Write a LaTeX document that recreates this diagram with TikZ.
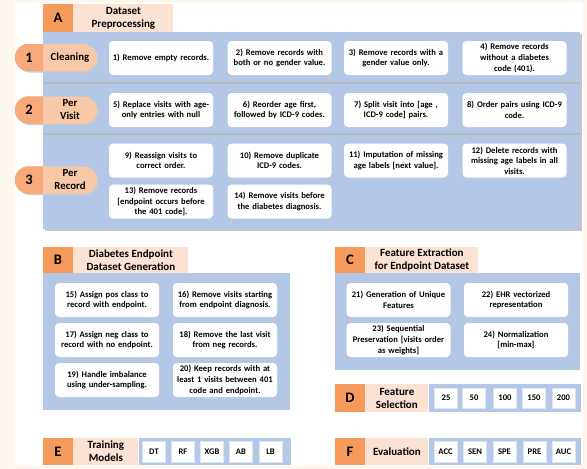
\documentclass[tikz,border=0pt]{standalone}
\usepackage{fontspec}
\setmainfont{Carlito}
\usetikzlibrary{positioning}

\definecolor{cream}{HTML}{FDF7F0}
\definecolor{letterorange}{HTML}{F69A5C}
\definecolor{headpeach}{HTML}{FCE2D2}
\definecolor{panelblue}{HTML}{B4C7E7}
\definecolor{pillorange}{HTML}{F7A97C}
\definecolor{pillpeach}{HTML}{F9C8A6}
\definecolor{chipline}{HTML}{DCE5F4}

\tikzset{
  letterbox/.style={fill=letterorange, minimum width=30, minimum height=28,
    inner sep=0, font=\fontsize{14.5}{14.5}\selectfont\bfseries},
  headbox/.style={fill=headpeach, minimum height=28, inner sep=0, align=center,
    font=\fontsize{11}{13}\selectfont\bfseries},
  stripbox/.style={fill=panelblue, minimum height=28, minimum width=152, inner sep=0},
  stepbox/.style={fill=white, rounded corners=4, minimum width=104,
    minimum height=34, text width=103, inner sep=0, align=center,
    font=\fontsize{8.6}{10.6}\selectfont\bfseries},
  chip/.style={fill=white, draw=chipline, minimum width=23, minimum height=21,
    inner sep=0, font=\fontsize{8.6}{8.6}\selectfont\bfseries},
  pill/.style={fill=pillpeach, minimum width=82, minimum height=27,
    rounded corners=13.5, inner sep=0},
  pilllabel/.style={align=center, inner sep=0,
    font=\fontsize{10.8}{13}\selectfont\bfseries},
  pillnum/.style={inner sep=0, font=\fontsize{14.5}{14.5}\selectfont\bfseries},
  divider/.style={draw=gray!55, line width=1.6}
}

\begin{document}
\begin{tikzpicture}[x=1pt, y=-1pt]
  \useasboundingbox (0,0) rectangle (587,469);
  \fill[cream] (0,0) rectangle (587,469);
  \fill[white] (15,3) rectangle (583,466);

  % A: dataset preprocessing
  \fill[gray!45] (45,34) rectangle (582,231);
  \fill[panelblue] (43,32) rectangle (580,229);
  \node[letterbox] (lA) at (58,18) {A};
  \node[headbox, minimum width=100, right=0pt of lA] (hA) {Dataset\\Preprocessing};
  \draw[divider] (43,83) -- (580,83);
  \draw[divider] (43,134) -- (580,134);

  % pills
  \foreach \name/\y/\num/\lab in {cleaning/57.5/1/Cleaning,
                                  pervisit/110/2/{Per\\Visit},
                                  perrecord/180/3/{Per\\Record}} {
    \fill[gray!40, rounded corners=13.5] (16.5,\y-12) rectangle (98.5,\y+15);
    \node[pill] (\name) at (56,\y) {};
    \begin{scope}
      \clip[rounded corners=13.5] (\name.south west) rectangle (\name.north east);
      \fill[pillorange] (\name.south west) rectangle ([xshift=28]\name.north west);
    \end{scope}
    \node[pillnum] (\name-n) at (29,\y) {\num};
    \node[pilllabel] (\name-t) at (70,\y) {\lab};
  }

  \node[stepbox] (s1) at (161,58) {1) Remove empty records.};
  \node[stepbox] (s2) at (279.5,58) {2) Remove records with\\both or no gender value.};
  \node[stepbox] (s3) at (396,58) {3) Remove records with a\\gender value only.};
  \node[stepbox] (s4) at (514.5,58) {4) Remove records\\without a diabetes\\code (401).};

  \node[stepbox] (s5) at (161,110) {5) Replace visits with age-\\only entries with null};
  \node[stepbox] (s6) at (279.5,110) {6) Reorder age first,\\followed by ICD-9 codes.};
  \node[stepbox] (s7) at (396,110) {7) Split visit into [age ,\\ICD-9 code] pairs.};
  \node[stepbox] (s8) at (514.5,110) {8) Order pairs using ICD-9\\code.};

  \node[stepbox] (s9) at (161,160.5) {9) Reassign visits to\\correct order.};
  \node[stepbox] (s10) at (279.5,160.5) {10) Remove duplicate\\ICD-9 codes.};
  \node[stepbox] (s11) at (396,160.5) {11) Imputation of missing\\age labels [next value].};
  \node[stepbox] (s12) at (514.5,160.5) {12) Delete records with\\missing age labels in all\\visits.};
  \node[stepbox] (s13) at (161,201.5) {13) Remove records\\{[}endpoint occurs before\\the 401 code].};
  \node[stepbox] (s14) at (279.5,201.5) {14) Remove visits before\\the diabetes diagnosis.};

  % B: endpoint dataset
  \fill[panelblue] (43,273) rectangle (290,410);
  \node[letterbox, minimum height=26] (lB) at (58,260) {B};
  \node[headbox, minimum height=26, minimum width=115, right=0pt of lB] (hB) {Diabetes Endpoint\\Dataset Generation};
  \node[stepbox] (s15) at (107,300) {15) Assign pos class to\\record with endpoint.};
  \node[stepbox] (s16) at (225,300) {16) Remove visits starting\\from endpoint diagnosis.};
  \node[stepbox] (s17) at (107,340) {17) Assign neg class to\\record with no endpoint.};
  \node[stepbox] (s18) at (225,340) {18) Remove the last visit\\from neg records.};
  \node[stepbox] (s19) at (107,380) {19) Handle imbalance\\using under-sampling.};
  \node[stepbox] (s20) at (225,380) {20) Keep records with at\\least 1 visits between 401\\code and endpoint.};

  % C: feature extraction
  \fill[panelblue] (335,273) rectangle (580,370);
  \node[letterbox, minimum height=26] (lC) at (350,260) {C};
  \node[headbox, minimum height=26, minimum width=113, right=0pt of lC] (hC) {Feature Extraction\\for Endpoint Dataset};
  \node[stepbox] (s21) at (398.5,300) {21) Generation of Unique\\Features};
  \node[stepbox] (s22) at (516,300) {22) EHR vectorized\\representation};
  \node[stepbox] (s23) at (398.5,340) {23) Sequential\\Preservation [visits order\\as weights]};
  \node[stepbox] (s24) at (516,340) {24) Normalization\\{[}min-max]};

  % D: feature selection
  \node[letterbox] (lD) at (350,398) {D};
  \node[headbox, minimum width=63, right=0pt of lD] (hD) {Feature\\Selection};
  \node[stripbox, right=0pt of hD] (bD) {};
  \foreach \v/\x in {25/446, 50/474, 100/505, 150/534, 200/563.5}
    \node[chip, minimum height=20] (d\v) at (\x,398) {\v};

  % E: training models
  \node[letterbox, minimum height=27] (lE) at (58,451.5) {E};
  \node[headbox, minimum height=27, minimum width=65, right=0pt of lE] (hE) {Training\\Models};
  \node[stripbox, minimum height=27, right=0pt of hE] (bE) {};
  \foreach \v/\x in {DT/154, RF/183, XGB/212, AB/241, LB/270.5}
    \node[chip] (e\v) at (\x,452) {\v};

  % F: evaluation
  \node[letterbox, minimum height=27] (lF) at (350,451.5) {F};
  \node[headbox, minimum height=27, minimum width=63, right=0pt of lF] (hF) {Evaluation};
  \node[stripbox, minimum height=27, right=0pt of hF] (bF) {};
  \foreach \v/\x in {ACC/445.5, SEN/475, SPE/504.5, PRE/534.5, AUC/563.5}
    \node[chip] (f\v) at (\x,452) {\v};
\end{tikzpicture}
\end{document}
